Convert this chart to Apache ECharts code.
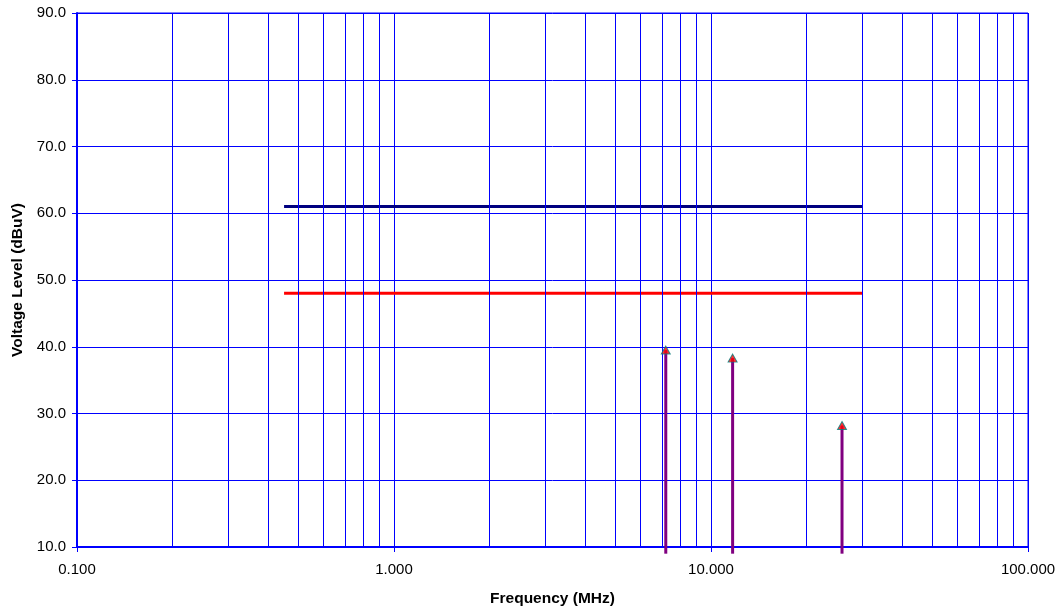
<!DOCTYPE html>
<html>
<head>
<meta charset="utf-8">
<script src="https://cdn.jsdelivr.net/npm/echarts@6/dist/echarts.min.js"></script>
<style>html,body{margin:0;padding:0;background:#fff}#c{width:1064px;height:612px}</style>
</head>
<body>
<div id="c"></div>
<script>
// ---- data ----
var limitFreqs = [0.45, 30];
var limitQP = [61.0, 61.0];      // navy limit line
var limitAV = [48.0, 48.0];      // red limit line
var peakFreqs = [7.2, 11.7, 25.9];
var peakLevels = [39.5, 38.3, 28.2];
var spikeBase = 9.0;
var minorGridFreqs = [0.2,0.3,0.4,0.5,0.6,0.7,0.8,0.9,2,3,4,5,6,7,8,9,20,30,40,50,60,70,80,90];

var chart = echarts.init(document.getElementById('c'), null, {renderer:'canvas'});
var font = 'Liberation Sans, Arial, sans-serif';
var blue = '#0000FF';

var series = [];
series.push({
  type:'line', data:[], silent:true, z:1,
  markLine:{silent:true, symbol:['none','none'], label:{show:false},
    lineStyle:{color:blue, width:1, type:'solid'},
    data: minorGridFreqs.map(function(f){return {xAxis:f};})}
});
series.push({
  type:'line', z:3, symbol:'none', lineStyle:{color:'#000080', width:3},
  data: limitFreqs.map(function(f,i){return [f, limitQP[i]];})
});
series.push({
  type:'line', z:3, symbol:'none', lineStyle:{color:'#FF0000', width:3},
  data: limitFreqs.map(function(f,i){return [f, limitAV[i]];})
});
peakFreqs.forEach(function(f,i){
  series.push({
    type:'line', z:4, symbol:'none', clip:false, lineStyle:{color:'#800080', width:3},
    data:[[f, spikeBase],[f, peakLevels[i]]]
  });
});
series.push({
  type:'scatter', z:5, symbol:'triangle', symbolSize:[9,8],
  itemStyle:{color:'#FF0000', borderColor:'#008080', borderWidth:1},
  data: peakFreqs.map(function(f,i){return [f, peakLevels[i]];})
});

chart.setOption({
  animation:false,
  backgroundColor:'#fff',
  grid:{left:77, right:36, top:13, bottom:64, show:true, borderColor:blue, borderWidth:1},
  xAxis:{
    type:'log', logBase:10, min:0.1, max:100,
    name:'Frequency (MHz)', nameLocation:'middle', nameGap:44,
    nameTextStyle:{fontFamily:font, fontSize:15.5, fontWeight:'bold', color:'#000'},
    axisLine:{lineStyle:{color:blue, width:2}},
    axisTick:{show:true, length:5, lineStyle:{color:blue}},
    axisLabel:{fontFamily:font, fontSize:15, color:'#000', margin:15,
      formatter:function(v){return Number(v).toFixed(3);}},
    splitLine:{show:true, lineStyle:{color:blue, width:1}},
    minorTick:{show:false}, minorSplitLine:{show:false}
  },
  yAxis:{
    type:'value', min:10, max:90, interval:10,
    name:'Voltage Level (dBuV)', nameLocation:'middle', nameGap:48,
    nameTextStyle:{fontFamily:font, fontSize:15.5, fontWeight:'bold', color:'#000'},
    axisLine:{show:true, lineStyle:{color:blue, width:2}},
    axisTick:{show:true, length:5, lineStyle:{color:blue}},
    axisLabel:{fontFamily:font, fontSize:15, color:'#000', margin:11,
      formatter:function(v){return Number(v).toFixed(1);}},
    splitLine:{show:true, lineStyle:{color:blue, width:1}}
  },
  series: series
});
</script>
</body>
</html>
